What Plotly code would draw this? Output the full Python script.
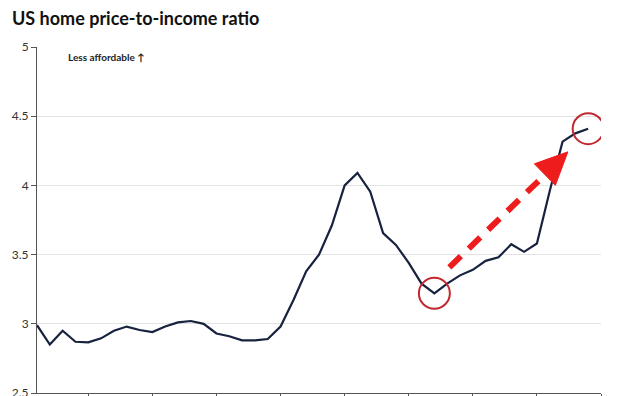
import plotly.graph_objects as go

# ---- data ----
years = list(range(1981, 2025))
ratio = [2.99, 2.85, 2.95, 2.87, 2.866, 2.895, 2.95, 2.98, 2.955, 2.94,
         2.98, 3.01, 3.02, 3.00, 2.93, 2.91, 2.88, 2.88, 2.89, 2.98,
         3.17, 3.38, 3.50, 3.71, 4.00, 4.09, 3.955, 3.655, 3.57, 3.44,
         3.29, 3.22, 3.29, 3.35, 3.39, 3.455, 3.48, 3.575, 3.52, 3.58,
         3.96, 4.316, 4.376, 4.41]
x_ticks = [1985, 1990, 1995, 2000, 2005, 2010, 2015, 2020, 2025]
y_ticks = [2.5, 3, 3.5, 4, 4.5, 5]
title_text = "US home price-to-income ratio"
note_text = "Less affordable ↑"
low_year, high_year = 2012, 2024

NAVY = "#17223f"
CIRCLE_RED = "#c1272d"
ARROW_RED = "#ee1c1c"
FONT = "Lato"

fig = go.Figure()
fig.add_trace(go.Scatter(x=years, y=ratio, mode="lines",
                         line=dict(color=NAVY, width=2.2), hoverinfo="skip"))

low_val = ratio[years.index(low_year)]
high_val = ratio[years.index(high_year)]

shapes = []
# circles around start and end points
for yr, val in [(low_year, low_val), (high_year, high_val)]:
    shapes.append(dict(type="circle", xref="x", yref="y",
                       xsizemode="pixel", ysizemode="pixel",
                       xanchor=yr, yanchor=val,
                       x0=-15.5, x1=15.5, y0=-15.5, y1=15.5,
                       line=dict(color=CIRCLE_RED, width=2)))

# dashed arrow shaft (pixel offsets relative to the low point)
shapes.append(dict(type="line", xref="x", yref="y",
                   xsizemode="pixel", ysizemode="pixel",
                   xanchor=low_year, yanchor=low_val,
                   x0=15, y0=26, x1=111, y1=119,
                   line=dict(color=ARROW_RED, width=6, dash="16px,11px")))
# arrow head
shapes.append(dict(type="path", xref="x", yref="y",
                   xsizemode="pixel", ysizemode="pixel",
                   xanchor=low_year, yanchor=low_val,
                   path="M 133.5 141.5 L 121 108 L 100 129.5 Z",
                   fillcolor=ARROW_RED, line=dict(color=ARROW_RED, width=1)))

fig.update_layout(
    width=624, height=396,
    margin=dict(l=37, r=23, t=47, b=3),
    paper_bgcolor="white", plot_bgcolor="white",
    showlegend=False,
    font=dict(family=FONT, color="#333333", size=12),
    title=dict(text="<b>" + title_text + "</b>", xref="container", yref="container",
               x=12 / 624, xanchor="left", y=1 - 19 / 396, yanchor="middle",
               automargin=False,
               font=dict(family=FONT, size=18, color="#111111")),
    xaxis=dict(range=[1981, 2025], tickvals=x_ticks, showticklabels=False,
               ticks="outside", ticklen=5, tickcolor="#555555", tickwidth=1,
               showline=True, linecolor="#555555", linewidth=1,
               showgrid=False, zeroline=False, fixedrange=True,
               automargin=False),
    yaxis=dict(range=[2.5, 5], tickvals=y_ticks,
               ticktext=[("%g" % v) for v in y_ticks],
               ticks="outside", ticklen=5, tickcolor="#555555", tickwidth=1,
               showline=True, linecolor="#555555", linewidth=1,
               showgrid=True, gridcolor="#e3e3e3", gridwidth=1,
               zeroline=False, tickfont=dict(size=12, color="#333333"),
               ticklabeloverflow="allow",
               fixedrange=True, automargin=False),
    shapes=shapes,
    annotations=[dict(text="<b>" + note_text + "</b>", xref="paper", yref="paper",
                      x=(66 - 37) / 564, y=(393 - 57) / 346,
                      xanchor="left", yanchor="middle", showarrow=False,
                      font=dict(family=FONT, size=10, color="#222222"))],
)

fig.write_html("out.html")
